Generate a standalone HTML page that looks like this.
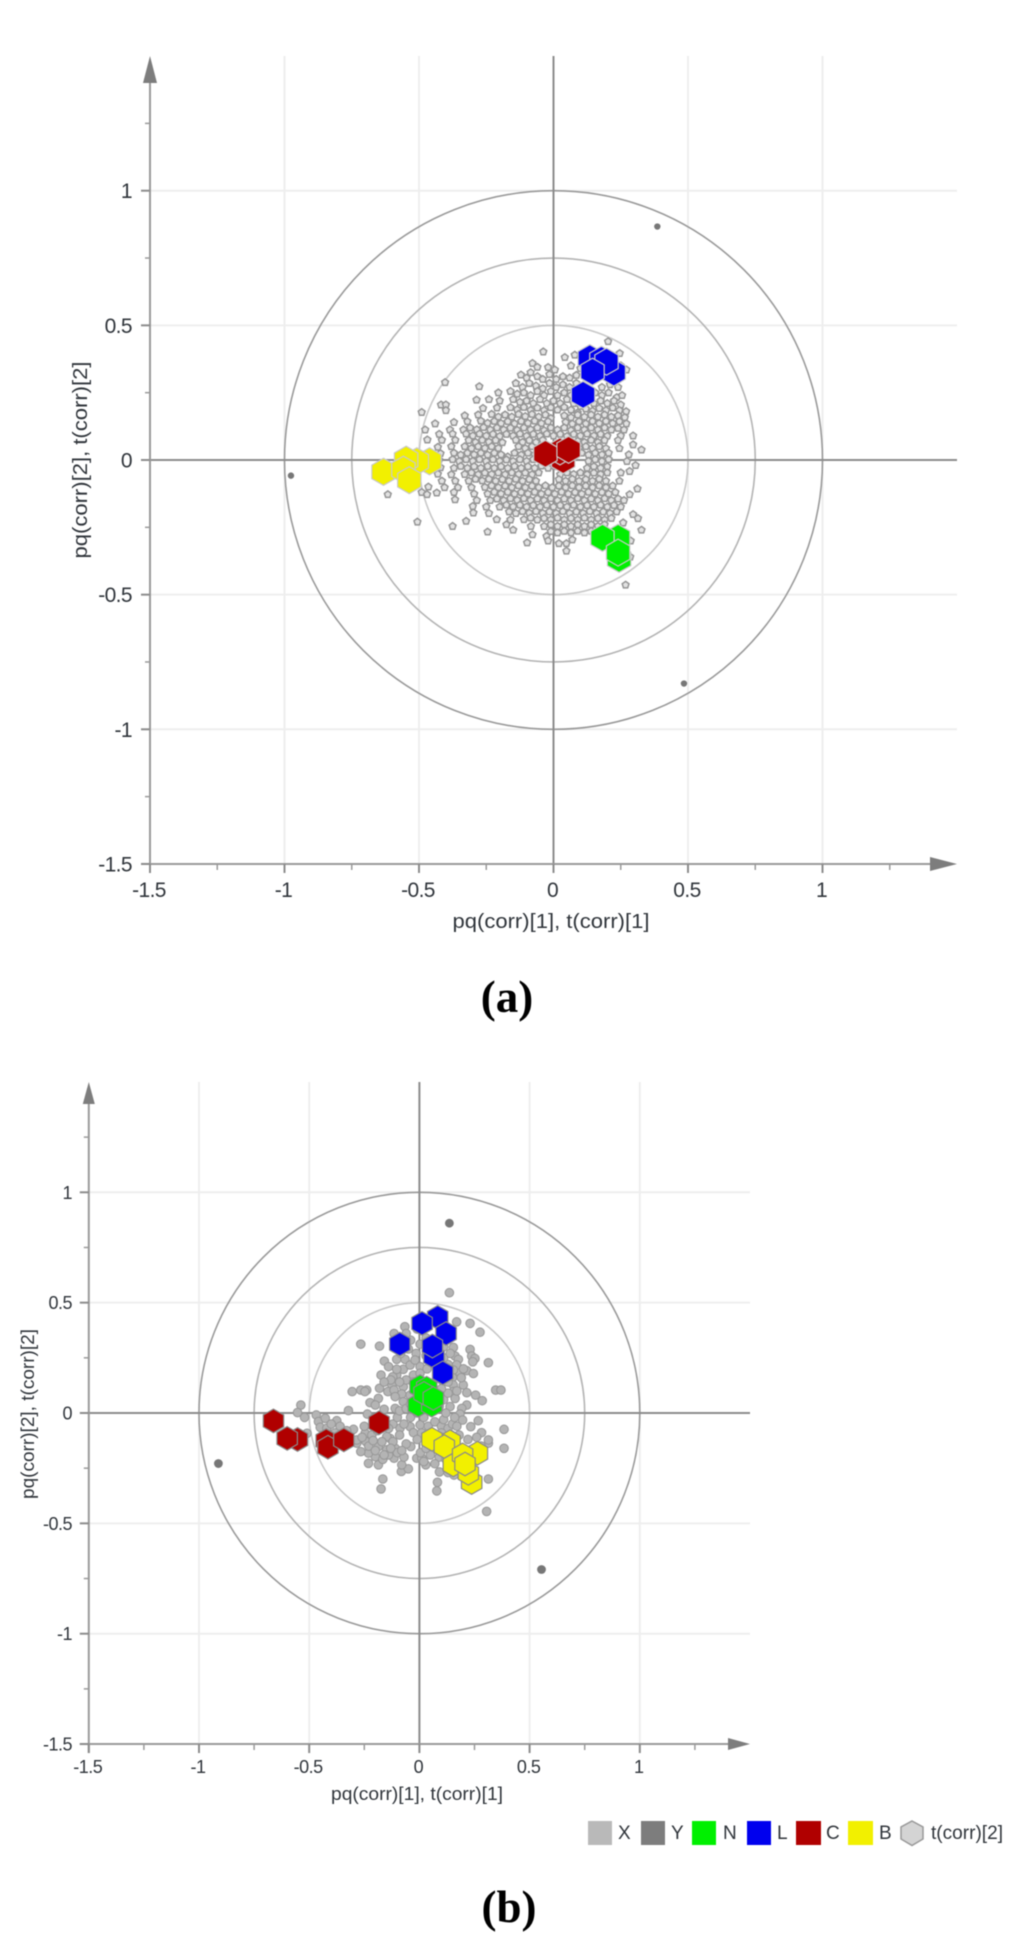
<!DOCTYPE html>
<html>
<head>
<meta charset="utf-8">
<title>Loading plots a and b</title>
<style>
html,body{margin:0;padding:0;background:#fff;width:1024px;height:1949px;overflow:hidden}
svg{display:block;position:absolute;left:0;top:0;filter:blur(0.4px)}
text{font-family:"Liberation Sans",sans-serif;fill:#30353b}
.cap{font-family:"Liberation Serif",serif;font-weight:bold;font-size:45px;fill:#000;text-anchor:middle}
</style>
</head>
<body>
<svg id="chart" width="1024" height="1949" viewBox="0 0 1024 1949">
  <g id="panel-a"></g>
  <g id="panel-b"></g>
  <text x="551" y="928" font-size="20" text-anchor="middle" textLength="197" lengthAdjust="spacingAndGlyphs">pq(corr)[1], t(corr)[1]</text>
  <text x="0" y="0" font-size="20" text-anchor="middle" textLength="197" lengthAdjust="spacingAndGlyphs" transform="translate(87 460) rotate(-90)">pq(corr)[2], t(corr)[2]</text>
  <text class="cap" x="507" y="1012">(a)</text>
  <text x="417" y="1800" font-size="18" text-anchor="middle" textLength="172" lengthAdjust="spacingAndGlyphs">pq(corr)[1], t(corr)[1]</text>
  <text x="0" y="0" font-size="18" text-anchor="middle" textLength="170" lengthAdjust="spacingAndGlyphs" transform="translate(34 1414) rotate(-90)">pq(corr)[2], t(corr)[2]</text>
  <text class="cap" x="509" y="1922">(b)</text>
  <g>
    <rect x="588" y="1821" width="24" height="24" fill="#b9b9b9"/>
    <text x="618" y="1839" font-size="19">X</text>
    <rect x="641" y="1821" width="24" height="24" fill="#7d7d7d"/>
    <text x="671" y="1839" font-size="19">Y</text>
    <rect x="692" y="1821" width="24" height="24" fill="#00f000"/>
    <text x="723" y="1839" font-size="19">N</text>
    <rect x="747" y="1821" width="24" height="24" fill="#0000ee"/>
    <text x="777" y="1839" font-size="19">L</text>
    <rect x="796" y="1821" width="25" height="24" fill="#b00000"/>
    <text x="826" y="1839" font-size="19">C</text>
    <rect x="848" y="1821" width="25" height="24" fill="#f2f000"/>
    <text x="879" y="1839" font-size="19">B</text>
    <polygon points="912,1821 923,1827 923,1839 912,1845.5 901,1839 901,1827" fill="#d4d4d4" stroke="#999" stroke-width="1.5"/>
    <text x="931" y="1839" font-size="19" textLength="72" lengthAdjust="spacingAndGlyphs">t(corr)[2]</text>
  </g>
</svg>
<script>
// ---------- shared axis data ----------
const majorTicks = [-1.5,-1,-0.5,0,0.5,1];
const minorTicks = [-1.25,-0.75,-0.25,0.25,0.75,1.25];
const gridValues = [-1,-0.5,0.5,1];
const tickLabels = ['-1.5','-1','-0.5','0','0.5','1'];
const circleRadii = [1,0.75,0.5];

// ---------- panel a values ----------
const yVarsA = [[0.386,0.867],[-0.976,-0.058],[0.485,-0.83]];
const nHexA = [[0.24,-0.289],[0.182,-0.289],[0.244,-0.367],[0.24,-0.344]];
const lHexA = [[0.135,0.378],[0.178,0.372],[0.224,0.325],[0.197,0.365],[0.145,0.328],[0.11,0.242]];
const cHexA = [[0.036,0.0],[0.024,0.032],[-0.03,0.023],[0.056,0.038]];
const bHexA = [[-0.461,-0.005],[-0.508,-0.005],[-0.632,-0.044],[-0.548,0.001],[-0.558,-0.036],[-0.536,-0.075]];
const xVarsA = [
[-0.038,0.402],[0.042,0.381],[0.079,0.39],[0.203,0.44],[0.246,0.396],[0.271,0.335],[-0.078,0.359],[-0.02,0.344],[-0.06,0.345],[0.005,0.335],[0.065,0.35],[0.1,0.34],[0.25,0.35],
[-0.121,0.316],[-0.1,0.305],[-0.085,0.325],[-0.06,0.31],[-0.04,0.3],[-0.015,0.318],[0.01,0.3],[0.035,0.31],[0.06,0.305],[0.085,0.315],[0.24,0.3],
[-0.403,0.288],[-0.276,0.273],[-0.14,0.285],[-0.115,0.27],[-0.09,0.285],[-0.065,0.275],[-0.04,0.265],[-0.015,0.285],[0.01,0.27],[0.035,0.28],[0.06,0.27],[0.085,0.285],[0.18,0.27],[0.21,0.28],[0.24,0.27],
[-0.205,0.25],[-0.16,0.255],[-0.135,0.245],[-0.11,0.25],[-0.085,0.24],[-0.06,0.255],[-0.035,0.24],[-0.01,0.255],[0.015,0.24],[0.04,0.25],[0.065,0.24],[0.155,0.25],[0.18,0.24],[0.205,0.25],[0.235,0.232],[0.255,0.24],
[-0.286,0.223],[-0.24,0.225],[-0.2,0.22],[-0.15,0.225],[-0.125,0.215],[-0.1,0.22],[-0.075,0.21],[-0.05,0.225],[-0.025,0.21],[0,0.22],[0.025,0.21],[0.05,0.225],[0.075,0.21],[0.1,0.2],[0.15,0.21],[0.175,0.22],[0.2,0.21],[0.225,0.22],[0.25,0.205],
[-0.418,0.205],[-0.4,0.205],[-0.4,0.184],[-0.49,0.177],[-0.262,0.192],[-0.21,0.194],[-0.16,0.195],[-0.135,0.187],[-0.11,0.196],[-0.085,0.185],[-0.06,0.194],[-0.035,0.184],[-0.01,0.195],[0.015,0.186],[0.04,0.196],[0.065,0.186],[0.09,0.176],[0.12,0.19],[0.145,0.182],[0.17,0.192],[0.195,0.184],[0.22,0.194],[0.245,0.184],[0.27,0.18],
[-0.33,0.165],[-0.28,0.168],[-0.23,0.17],[-0.205,0.16],[-0.18,0.168],[-0.155,0.16],[-0.13,0.17],[-0.105,0.162],[-0.08,0.17],[-0.055,0.16],[-0.03,0.168],[-0.01,0.155],[0.04,0.165],[0.065,0.158],[0.09,0.168],[0.115,0.16],[0.14,0.168],[0.165,0.16],[0.19,0.168],[0.215,0.16],[0.24,0.165],[0.265,0.158],
[-0.44,0.135],[-0.37,0.14],[-0.32,0.143],[-0.27,0.145],[-0.245,0.137],[-0.22,0.144],[-0.195,0.136],[-0.17,0.143],[-0.145,0.135],[-0.12,0.144],[-0.095,0.137],[-0.07,0.145],[-0.045,0.136],[-0.02,0.143],[0.045,0.14],[0.07,0.134],[0.095,0.143],[0.12,0.135],[0.145,0.144],[0.17,0.136],[0.195,0.144],[0.22,0.136],[0.245,0.143],[0.271,0.135],
[-0.477,0.112],[-0.385,0.112],[-0.335,0.112],[-0.31,0.12],[-0.285,0.113],[-0.26,0.121],[-0.235,0.112],[-0.21,0.12],[-0.185,0.112],[-0.16,0.119],[-0.135,0.111],[-0.11,0.12],[-0.085,0.113],[-0.06,0.12],[-0.035,0.11],[-0.01,0.12],[0.015,0.112],[0.04,0.12],[0.065,0.11],[0.09,0.12],[0.115,0.112],[0.14,0.12],[0.165,0.112],[0.19,0.12],[0.215,0.112],[0.24,0.118],[0.262,0.112],
[-0.425,0.096],[-0.375,0.097],[-0.325,0.097],[-0.3,0.09],[-0.275,0.097],[-0.25,0.09],[-0.225,0.096],[-0.2,0.088],[-0.175,0.096],[-0.15,0.09],[-0.125,0.097],[-0.1,0.089],[-0.075,0.096],[-0.05,0.089],[-0.025,0.097],[0,0.09],[0.025,0.096],[0.05,0.088],[0.075,0.096],[0.1,0.09],[0.125,0.097],[0.15,0.09],[0.175,0.096],[0.2,0.089],[0.25,0.09],[0.296,0.09],
[-0.469,0.075],[-0.415,0.074],[-0.365,0.074],[-0.315,0.073],[-0.29,0.066],[-0.265,0.074],[-0.24,0.067],[-0.215,0.073],[-0.19,0.065],[-0.14,0.074],[-0.115,0.066],[-0.09,0.073],[-0.065,0.066],[-0.04,0.074],[0.09,0.07],[0.115,0.066],[0.14,0.074],[0.165,0.066],[0.19,0.073],[0.24,0.073],[0.296,0.057],
[-0.43,0.048],[-0.38,0.05],[-0.33,0.05],[-0.305,0.043],[-0.28,0.05],[-0.255,0.044],[-0.23,0.05],[-0.205,0.044],[-0.13,0.05],[-0.105,0.043],[-0.08,0.05],[0.095,0.044],[0.12,0.05],[0.145,0.043],[0.17,0.05],[0.195,0.043],[0.245,0.043],[0.327,0.038],
[-0.42,0.024],[-0.37,0.026],[-0.345,0.019],[-0.32,0.026],[-0.295,0.02],[-0.27,0.026],[-0.245,0.019],[-0.22,0.026],[-0.195,0.02],[-0.17,0.012],[-0.145,0.026],[-0.12,0.019],[-0.095,0.026],[-0.07,0.02],[0.105,0.026],[0.13,0.019],[0.155,0.026],[0.18,0.02],[0.205,0.026],[0.28,0.02],
[-0.425,0.0],[-0.375,0.002],[-0.35,-0.005],[-0.325,0.002],[-0.3,-0.004],[-0.275,0.002],[-0.25,-0.005],[-0.225,0.002],[-0.2,-0.004],[-0.175,0.001],[-0.15,-0.005],[-0.125,0.002],[-0.1,-0.004],[-0.075,0.002],[0.13,-0.004],[0.155,0.002],[0.18,-0.005],[0.205,0.002],[0.273,-0.005],
[-0.42,-0.028],[-0.37,-0.03],[-0.345,-0.023],[-0.32,-0.03],[-0.295,-0.024],[-0.27,-0.03],[-0.245,-0.023],[-0.22,-0.03],[-0.195,-0.024],[-0.17,-0.03],[-0.145,-0.023],[-0.12,-0.03],[-0.095,-0.024],[-0.07,-0.03],[-0.045,-0.022],[-0.02,-0.03],[0.005,-0.024],[0.03,-0.03],[0.055,-0.024],[0.125,-0.03],[0.15,-0.024],[0.175,-0.03],[0.2,-0.024],[0.305,-0.02],
[-0.43,-0.052],[-0.38,-0.054],[-0.33,-0.053],[-0.305,-0.047],[-0.28,-0.054],[-0.255,-0.048],[-0.23,-0.053],[-0.205,-0.047],[-0.18,-0.054],[-0.155,-0.047],[-0.13,-0.053],[-0.105,-0.048],[-0.08,-0.054],[-0.055,-0.047],[0.025,-0.054],[0.05,-0.047],[0.075,-0.053],[0.1,-0.047],[0.125,-0.054],[0.15,-0.048],[0.175,-0.053],[0.2,-0.047],[0.25,-0.047],[0.283,-0.042],
[-0.415,-0.078],[-0.365,-0.078],[-0.315,-0.078],[-0.29,-0.071],[-0.265,-0.077],[-0.24,-0.071],[-0.215,-0.078],[-0.19,-0.072],[-0.165,-0.078],[-0.14,-0.071],[-0.115,-0.078],[-0.09,-0.072],[-0.065,-0.078],[0.02,-0.072],[0.045,-0.078],[0.07,-0.071],[0.095,-0.078],[0.12,-0.072],[0.145,-0.078],[0.17,-0.071],[0.195,-0.078],[0.245,-0.078],
[-0.465,-0.1],[-0.405,-0.102],[-0.355,-0.102],[-0.305,-0.102],[-0.255,-0.101],[-0.23,-0.095],[-0.205,-0.102],[-0.18,-0.096],[-0.155,-0.102],[-0.13,-0.095],[-0.105,-0.102],[-0.08,-0.096],[-0.055,-0.102],[-0.03,-0.095],[-0.005,-0.102],[0.02,-0.096],[0.045,-0.102],[0.07,-0.095],[0.095,-0.102],[0.12,-0.096],[0.145,-0.102],[0.17,-0.095],[0.195,-0.102],[0.22,-0.096],[0.312,-0.107],
[-0.434,-0.122],[-0.37,-0.12],[-0.295,-0.126],[-0.245,-0.126],[-0.22,-0.119],[-0.195,-0.125],[-0.17,-0.119],[-0.145,-0.126],[-0.12,-0.12],[-0.095,-0.126],[-0.07,-0.119],[-0.045,-0.126],[-0.02,-0.12],[0.005,-0.126],[0.03,-0.119],[0.055,-0.126],[0.08,-0.12],[0.105,-0.126],[0.13,-0.119],[0.155,-0.126],[0.18,-0.12],[0.205,-0.126],[0.23,-0.12],[0.283,-0.128],
[-0.366,-0.147],[-0.285,-0.15],[-0.235,-0.15],[-0.21,-0.144],[-0.185,-0.15],[-0.16,-0.143],[-0.135,-0.149],[-0.11,-0.143],[-0.085,-0.15],[-0.06,-0.144],[-0.035,-0.15],[-0.01,-0.143],[0.015,-0.15],[0.04,-0.144],[0.065,-0.15],[0.09,-0.143],[0.115,-0.15],[0.14,-0.144],[0.165,-0.15],[0.19,-0.143],[0.215,-0.15],[0.24,-0.144],[0.262,-0.15],
[-0.3,-0.172],[-0.25,-0.174],[-0.2,-0.174],[-0.175,-0.167],[-0.15,-0.173],[-0.125,-0.167],[-0.1,-0.174],[-0.075,-0.168],[-0.05,-0.174],[-0.025,-0.167],[0,-0.174],[0.025,-0.168],[0.05,-0.174],[0.075,-0.167],[0.1,-0.174],[0.125,-0.168],[0.15,-0.174],[0.175,-0.167],[0.2,-0.174],[0.225,-0.168],[0.25,-0.174],
[-0.298,-0.196],[-0.24,-0.198],[-0.165,-0.192],[-0.14,-0.198],[-0.115,-0.191],[-0.09,-0.197],[-0.065,-0.191],[-0.04,-0.198],[-0.015,-0.192],[0.01,-0.198],[0.035,-0.191],[0.06,-0.198],[0.085,-0.192],[0.11,-0.198],[0.135,-0.191],[0.16,-0.198],[0.185,-0.192],[0.21,-0.198],[0.235,-0.192],[0.296,-0.202],
[-0.325,-0.227],[-0.211,-0.221],[-0.16,-0.222],[-0.11,-0.221],[-0.085,-0.215],[-0.06,-0.222],[-0.035,-0.216],[-0.01,-0.222],[0.015,-0.215],[0.04,-0.222],[0.065,-0.216],[0.09,-0.222],[0.115,-0.215],[0.14,-0.222],[0.165,-0.216],[0.19,-0.222],[0.215,-0.216],[0.259,-0.233],[0.314,-0.217],
[-0.506,-0.23],[-0.375,-0.246],[-0.245,-0.267],[-0.15,-0.26],[-0.175,-0.24],[-0.084,-0.246],[-0.035,-0.246],[-0.01,-0.24],[0.015,-0.246],[0.04,-0.24],[0.065,-0.246],[0.09,-0.24],[0.115,-0.246],[0.14,-0.24],[0.165,-0.246],[0.19,-0.24],
[-0.078,-0.277],[-0.026,-0.283],[-0.01,-0.265],[0.015,-0.27],[0.04,-0.264],[0.065,-0.27],[0.09,-0.264],[0.115,-0.27],[0.14,-0.264],[0.327,-0.26],
[-0.098,-0.307],[0.02,-0.31],[0.048,-0.31],[0.048,-0.338],[0.07,-0.296],[-0.02,-0.3],
[0.268,-0.464],[-0.616,-0.128],[-0.49,-0.12],[-0.47,-0.128],[-0.52,-0.09],[0.285,-0.36],[0.287,-0.3]
];

// ---------- panel b values ----------
const yVarsB = [[0.136,0.86],[-0.912,-0.229],[0.554,-0.709]];
const nHexB = [[0.003,0.119],[0.033,0.112],[-0.005,0.036],[0.056,0.036],[0.021,0.089],[0.063,0.066]];
const lHexB = [[0.083,0.433],[0.012,0.406],[0.121,0.36],[-0.089,0.312],[0.066,0.255],[0.059,0.303],[0.106,0.182]];
const cHexB = [[-0.662,-0.036],[-0.553,-0.12],[-0.6,-0.115],[-0.423,-0.125],[-0.415,-0.155],[-0.343,-0.122],[-0.183,-0.044]];
const bHexB = [[0.139,-0.13],[0.057,-0.119],[0.113,-0.152],[0.263,-0.182],[0.154,-0.235],[0.237,-0.315],[0.222,-0.273],[0.196,-0.19],[0.207,-0.231]];
const xVarsB = [
[0.136,0.545],[0.169,0.413],[0.23,0.406],[0.275,0.366],[-0.266,0.312],[-0.181,0.303],[-0.066,0.391],[-0.115,0.36],[0.23,0.288],[0.237,0.258],[0.252,0.247],[0.242,0.232],[0.313,0.228],[0.154,0.297],[0.162,0.258],[0.177,0.243],
[-0.159,0.235],[-0.14,0.21],[-0.073,0.198],[-0.103,0.243],[-0.065,0.243],[-0.042,0.217],[-0.015,0.27],[0.003,0.312],[0.003,0.21],[-0.027,0.172],[-0.103,0.172],[-0.121,0.164],[-0.174,0.172],[-0.103,0.198],[0.003,0.18],
[0.181,0.187],[0.215,0.192],[0.245,0.179],[0.169,0.218],[0.154,0.195],[0.13,0.22],[-0.02,0.24],[-0.05,0.29],[-0.085,0.27],[0.03,0.26],[0.035,0.2],[0.15,0.16],
[-0.305,0.097],[-0.266,0.104],[-0.239,0.104],[-0.247,0.097],[-0.181,0.112],[-0.125,0.127],[-0.143,0.097],[-0.115,0.104],[-0.073,0.119],[-0.08,0.086],[-0.11,0.074],[-0.186,0.066],[-0.224,0.047],[-0.2,0.036],[-0.16,0.017],[-0.11,0.021],[-0.073,0.051],[-0.042,0.081],
[0.154,0.127],[0.199,0.127],[0.154,0.097],[0.162,0.066],[0.215,0.092],[0.255,0.081],[0.285,0.056],[0.215,0.036],[0.192,0.021],[0.139,0.029],[0.184,-0.005],[0.196,-0.032],[0.267,-0.035],[0.233,-0.062],[0.282,-0.089],[0.313,-0.137],[0.313,-0.122],[0.384,-0.074],[0.384,-0.16],[0.346,0.104],[0.37,0.104],
[0.313,-0.299],[0.305,-0.446],[0.079,-0.353],[0.082,-0.314],[0.091,-0.267],[0.157,-0.281],[-0.174,-0.344],[-0.166,-0.299],[-0.082,-0.265],[-0.05,-0.253],[-0.08,-0.235],[-0.231,-0.228],[-0.186,-0.235],[-0.2,-0.198],[-0.166,-0.21],[-0.231,-0.182],[-0.266,-0.175],[-0.284,-0.137],[-0.242,-0.13],[-0.246,-0.092],[-0.216,-0.1],[-0.186,-0.152],[-0.148,-0.167],[-0.115,-0.205],[-0.14,-0.19],[-0.133,-0.115],[-0.148,-0.107],[-0.088,-0.069],[-0.042,-0.062],[-0.027,-0.089],[0.003,-0.054],[-0.039,-0.152],[-0.012,-0.205],[0.011,-0.205],[0.029,-0.235],
[-0.538,0.036],[-0.553,0.002],[-0.521,-0.02],[-0.468,-0.009],[-0.458,-0.039],[-0.427,-0.024],[-0.375,-0.035],[-0.45,-0.065],[-0.42,-0.069],[-0.383,-0.09],[-0.322,0.011],[-0.236,-0.005],[-0.51,-0.092],[-0.299,-0.074],[-0.284,-0.122],
[-0.26,-0.11],[-0.23,-0.15],[-0.21,-0.125],[-0.2,-0.17],[-0.17,-0.13],[-0.16,-0.19],[-0.11,-0.16],[-0.09,-0.1],[-0.12,-0.05],[-0.1,-0.02],[-0.14,-0.07],[-0.09,0.01],[-0.06,0.02],[-0.04,-0.02],[-0.07,-0.05],[0.02,-0.02],[0.04,-0.06],[0.07,-0.04],[0.1,-0.06],[0.11,-0.03],[0.13,-0.07],[0.15,-0.05],[0.17,-0.06],[0.16,-0.02],[0.12,0.0],
[0.09,0.03],[0.11,0.06],[0.13,0.09],[0.1,0.11],[0.13,0.14],[0.17,0.1],[-0.03,0.14],[-0.06,0.15],[-0.09,0.14],[-0.13,0.15],[-0.16,0.14],[-0.01,0.0],[-0.04,0.04],[0.01,-0.09],[-0.01,-0.12],[0.005,-0.18],[0.05,-0.19],[0.09,-0.2],[0.03,-0.16],[0.02,-0.22],[0.07,-0.23],[0.12,-0.21],[0.13,-0.27],[0.18,-0.1],[0.22,-0.12],[0.26,-0.11],[0.28,-0.15],[0.1,-0.09],[0.145,-0.1],
[-0.12,-0.13],[-0.1,-0.18],[-0.07,-0.2],[-0.06,-0.14],[-0.08,-0.17],[-0.13,-0.16],[-0.19,-0.08],[-0.17,-0.06],[-0.21,-0.06],[-0.25,-0.06],[-0.33,-0.08],[-0.36,-0.06],[-0.4,-0.05],[0.19,0.16],[0.2,0.2],[0.11,0.25],[0.14,0.27],[0.11,0.3],[0.03,0.34],[-0.04,0.33],[-0.01,0.38],[-0.06,0.36],[0.1,0.15],[0.13,0.18]
];

// ---------- panel geometry ----------
const NS = 'http://www.w3.org/2000/svg';
const layoutA = {id:'panel-a',x0:553.5,y0:460,ux:269,uy:269.3,tickFont:21,spacing:-0.6,xLabelY:897,yLabelX:132,yLabelDy:7.5,
  ptRadius:3.6,hexR:13.5,hexStroke:'#c9c9c9',dotR:3.2,arrow:7,arrowLen:27};
const layoutB = {id:'panel-b',x0:419.4,y0:1413,ux:220.4,uy:220.7,tickFont:18,spacing:-0.5,xLabelY:1773,yLabelX:72,yLabelDy:6.5,
  ptRadius:4.3,hexR:11.8,hexStroke:'#8a8a8a',dotR:4.4,arrow:6,arrowLen:22};

function make(parent, tag, attrs){
  const el = document.createElementNS(NS, tag);
  for (const k in attrs) el.setAttribute(k, attrs[k]);
  parent.appendChild(el);
  return el;
}
function hexPoints(cx, cy, r){
  const p = [];
  for (let i = 0; i < 6; i++){
    const a = Math.PI/3*i - Math.PI/2;
    p.push((cx + r*Math.cos(a)).toFixed(1) + ',' + (cy + r*Math.sin(a)).toFixed(1));
  }
  return p.join(' ');
}
function pentPoints(cx, cy, r){
  const p = [];
  for (let i = 0; i < 5; i++){
    const a = Math.PI*2/5*i - Math.PI/2;
    p.push((cx + r*Math.cos(a)).toFixed(1) + ',' + (cy + r*Math.sin(a)).toFixed(1));
  }
  return p.join(' ');
}

function drawPanel(L, xVars, yVars, nHex, lHex, cHex, bHex, pointStyle){
  const g = document.getElementById(L.id);
  const sx = v => L.x0 + v*L.ux;
  const sy = v => L.y0 - v*L.uy;
  const left = sx(-1.5), right = sx(1.5), top = sy(1.5), bottom = sy(-1.5);

  gridValues.forEach(v => {
    const gx = make(g,'line',{x1:sx(v),x2:sx(v),y1:top,y2:bottom,stroke:'#eeeeee','stroke-width':2});
    
    
    const gy = make(g,'line',{x1:left,x2:right,y1:sy(v),y2:sy(v),stroke:'#eeeeee','stroke-width':2});
    
    
  });

  circleRadii.forEach((r,i) => {
    const c = make(g,'ellipse',{cx:sx(0),cy:sy(0),rx:r*L.ux,ry:r*L.uy,fill:'none',
      stroke:['#9a9a9a','#b4b4b4','#c8c8c8'][i],'stroke-width':1.6});
    
    
  });

  const zx = make(g,'line',{x1:left,x2:right,y1:sy(0),y2:sy(0),stroke:'#8c8c8c','stroke-width':2});
  
  
  const zy = make(g,'line',{x1:sx(0),x2:sx(0),y1:top,y2:bottom,stroke:'#8c8c8c','stroke-width':2});
  
  

  const ax = make(g,'line',{x1:left-9,x2:right-10,y1:bottom,y2:bottom,stroke:'#9a9a9a','stroke-width':2});
  
  
  const ay = make(g,'line',{x1:left,x2:left,y1:top+10,y2:bottom+9,stroke:'#9a9a9a','stroke-width':2});
  
  
  const ar = make(g,'polygon',{points:(right)+','+bottom+' '+(right-L.arrowLen)+','+(bottom-L.arrow)+' '+(right-L.arrowLen)+','+(bottom+L.arrow),fill:'#7d7d7d'});
  
  
  const at = make(g,'polygon',{points:left+','+top+' '+(left-L.arrow)+','+(top+L.arrowLen)+' '+(left+L.arrow)+','+(top+L.arrowLen),fill:'#7d7d7d'});
  
  

  minorTicks.forEach(v => {
    const t1 = make(g,'line',{x1:sx(v),x2:sx(v),y1:bottom,y2:bottom+6,stroke:'#9a9a9a','stroke-width':1.5});
    
    
    const t2 = make(g,'line',{x1:left-5,x2:left,y1:sy(v),y2:sy(v),stroke:'#9a9a9a','stroke-width':1.5});
    
    
  });
  majorTicks.forEach((v,i) => {
    const t1 = make(g,'line',{x1:sx(v),x2:sx(v),y1:bottom,y2:bottom+9,stroke:'#8c8c8c','stroke-width':2});
    
    
    const t2 = make(g,'line',{x1:left-9,x2:left,y1:sy(v),y2:sy(v),stroke:'#8c8c8c','stroke-width':2});
    
    
    const lx = make(g,'text',{x:sx(v)-1,y:L.xLabelY,'font-size':L.tickFont,'text-anchor':'middle','letter-spacing':L.spacing});
    lx.textContent = tickLabels[i];
    
    
    const ly = make(g,'text',{x:L.yLabelX,y:sy(v)+L.yLabelDy,'font-size':L.tickFont,'text-anchor':'end','letter-spacing':L.spacing});
    ly.textContent = tickLabels[i];
    
    
  });

  xVars.forEach(d => {
    let m;
    if (pointStyle === 'pentagon'){
      m = make(g,'polygon',{points:pentPoints(sx(d[0]),sy(d[1]),L.ptRadius),fill:'#e2e2e2',stroke:'#959595','stroke-width':1.5});
    } else {
      m = make(g,'circle',{cx:sx(d[0]),cy:sy(d[1]),r:L.ptRadius,fill:'#b4b4b4',stroke:'#979797','stroke-width':1});
    }
    
    
  });
  yVars.forEach(d => {
    const m = make(g,'circle',{cx:sx(d[0]),cy:sy(d[1]),r:L.dotR,fill:'#777777'});
    
    
  });
  const hexDraw = (list, color, name) => list.forEach(d => {
    const h = make(g,'polygon',{points:hexPoints(sx(d[0]),sy(d[1]),L.hexR),fill:color,stroke:L.hexStroke,'stroke-width':1.2});
    
    
  });
  hexDraw(nHex,'#00f000','hexagon-n');
  hexDraw(lHex,'#0000ee','hexagon-l');
  hexDraw(cHex,'#b00000','hexagon-c');
  hexDraw(bHex,'#f2f000','hexagon-b');
}

drawPanel(layoutA, xVarsA, yVarsA, nHexA, lHexA, cHexA, bHexA, 'pentagon');
drawPanel(layoutB, xVarsB, yVarsB, nHexB, lHexB, cHexB, bHexB, 'circle');
</script>
</body>
</html>
